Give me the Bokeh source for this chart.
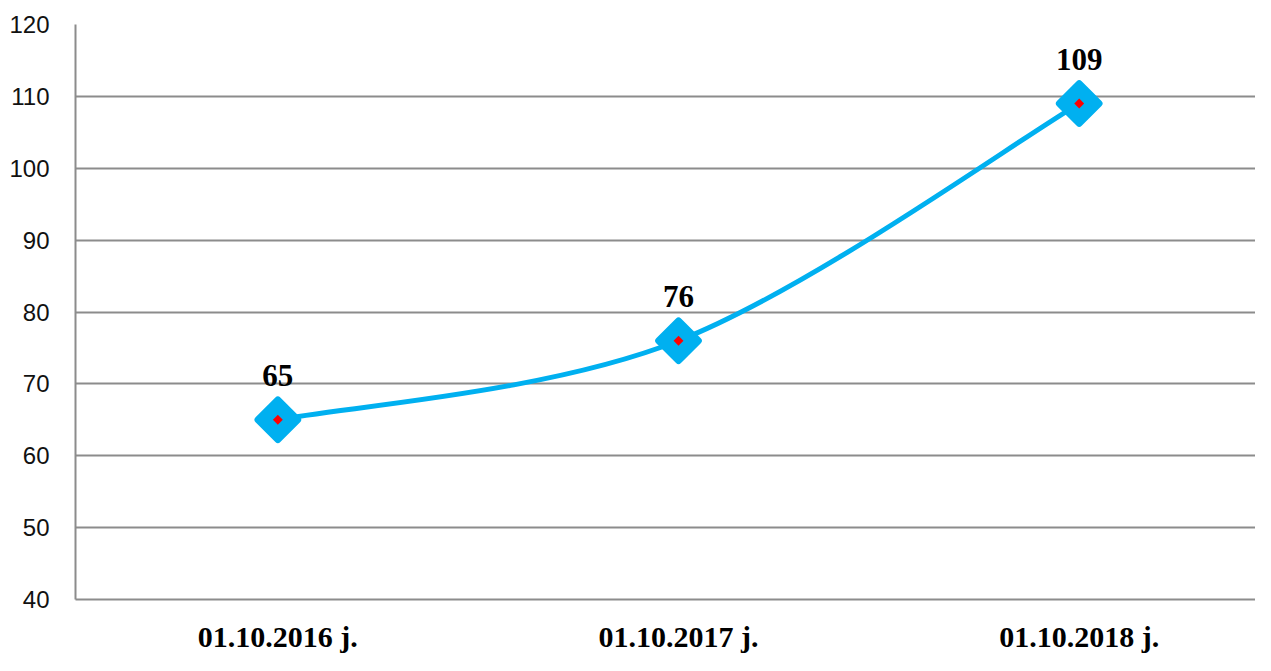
import math
from bokeh.plotting import figure
from bokeh.models import Range1d, FixedTicker, ColumnDataSource
from bokeh.core.properties import value
from bokeh.embed import file_html
from bokeh.resources import INLINE

categories = ["01.10.2016 j.", "01.10.2017 j.", "01.10.2018 j."]
values = [65, 76, 109]
y_ticks = [40, 50, 60, 70, 80, 90, 100, 110, 120]

xs = list(range(len(categories)))

p = figure(width=1255, height=655, output_backend="svg", toolbar_location=None,
           x_range=Range1d(-0.505, 2.44), y_range=Range1d(40, 120),
           min_border_left=75, min_border_top=24, min_border_bottom=52, min_border_right=0)
p.outline_line_color = None
p.background_fill_color = "white"
p.border_fill_color = "white"

gray = "#8c8c8c"
p.xgrid.grid_line_color = None
p.ygrid.grid_line_color = gray
p.ygrid.grid_line_width = 2
p.ygrid.ticker = FixedTicker(ticks=y_ticks)

p.yaxis.ticker = FixedTicker(ticks=y_ticks)
p.yaxis.axis_line_color = gray
p.yaxis.axis_line_width = 2
p.yaxis.major_tick_line_color = None
p.yaxis.minor_tick_line_color = None
p.yaxis.major_label_text_font = "Liberation Sans"
p.yaxis.major_label_text_font_size = "24px"
p.yaxis.major_label_text_color = "#111111"
p.yaxis.major_label_standoff = 20

p.xaxis.ticker = FixedTicker(ticks=xs)
p.xaxis.major_label_overrides = {i: c for i, c in enumerate(categories)}
p.xaxis.major_label_text_font = "Liberation Serif"
p.xaxis.major_label_text_font_style = "bold"
p.xaxis.major_label_text_font_size = "30px"
p.xaxis.major_label_text_color = "black"
p.xaxis.major_label_standoff = 14
p.xaxis.axis_line_color = gray
p.xaxis.axis_line_width = 2
p.xaxis.major_tick_line_color = None
p.xaxis.minor_tick_line_color = None

# Smoothed line (Excel-style Bezier smoothing)
n = len(xs)
x0s, y0s, x1s, y1s, cx0s, cy0s, cx1s, cy1s = [], [], [], [], [], [], [], []
for i in range(n - 1):
    pa = (xs[max(i - 1, 0)], values[max(i - 1, 0)])
    p0 = (xs[i], values[i])
    p1 = (xs[i + 1], values[i + 1])
    pb = (xs[min(i + 2, n - 1)], values[min(i + 2, n - 1)])
    x0s.append(p0[0]); y0s.append(p0[1])
    x1s.append(p1[0]); y1s.append(p1[1])
    cx0s.append(p0[0] + (p1[0] - pa[0]) / 6); cy0s.append(p0[1] + (p1[1] - pa[1]) / 6)
    cx1s.append(p1[0] - (pb[0] - p0[0]) / 6); cy1s.append(p1[1] - (pb[1] - p0[1]) / 6)
blue = "#00B0F0"
p.bezier(x0=x0s, y0=y0s, x1=x1s, y1=y1s, cx0=cx0s, cy0=cy0s, cx1=cx1s, cy1=cy1s,
         line_color=blue, line_width=5)

src = ColumnDataSource(dict(x=xs, y=values, label=[str(v) for v in values]))
p.scatter("x", "y", source=src, marker="square", angle=math.pi / 4, size=28,
          fill_color=blue, line_color=blue, line_width=7, line_join="round")
p.scatter("x", "y", source=src, marker="square", angle=math.pi / 4, size=7,
          fill_color="#FF0000", line_color=None)

p.text("x", "y", text="label", source=src, text_align="center", text_baseline="middle",
       y_offset=-44, text_font=value("Liberation Serif"), text_font_style="bold",
       text_font_size="31px", text_color="black")

open("out.html", "w").write(file_html(p, INLINE))
